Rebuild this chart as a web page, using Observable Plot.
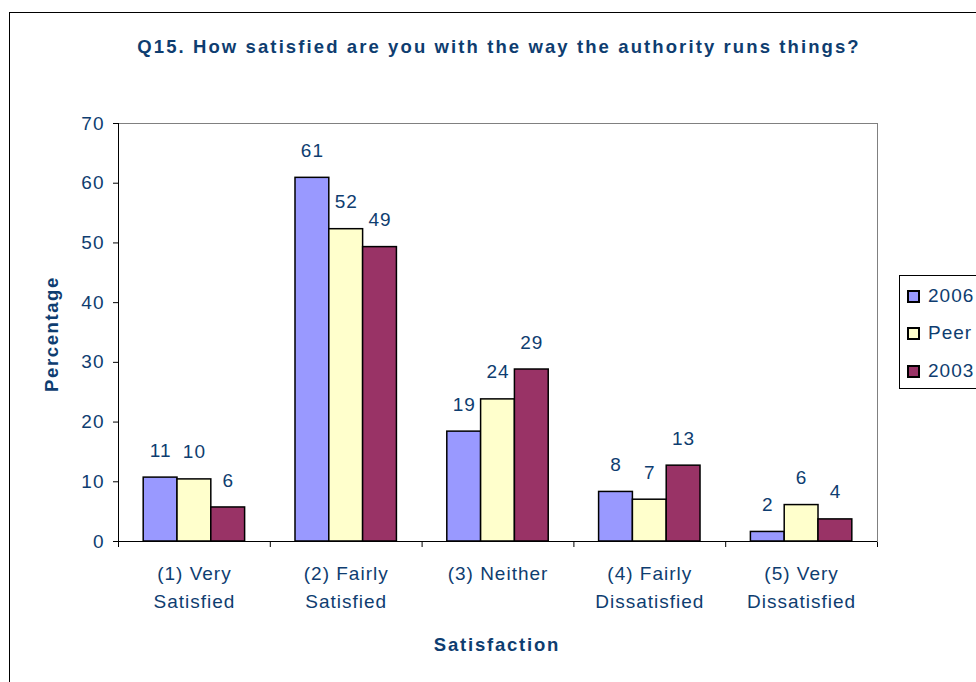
<!DOCTYPE html>
<html>
<head>
<meta charset="utf-8">
<script src="https://cdn.jsdelivr.net/npm/d3@7"></script>
<script src="https://cdn.jsdelivr.net/npm/@observablehq/plot@0.6"></script>
<style>
  html, body { margin: 0; padding: 0; width: 976px; height: 682px; overflow: hidden; background: #fff; }
  body { position: relative; font-family: "Liberation Sans", Arial, sans-serif; color: #0E3D70; }
  #border { position: absolute; left: 9px; top: 12px; width: 1100px; height: 800px; border: 1px solid #000; box-sizing: border-box; }
  #chart { position: absolute; left: 0; top: 0; }
  .ov { position: absolute; white-space: nowrap; }
  #title { left: 499px; top: 47px; transform: translate(-50%, -50%); font-weight: bold; font-size: 18.5px; letter-spacing: 2.1px; }
  #ylab { left: 52px; top: 334px; transform: translate(-50%, -50%) rotate(-90deg); font-weight: bold; font-size: 18.5px; letter-spacing: 1.6px; }
  #xlab { left: 497px; top: 645px; transform: translate(-50%, -50%); font-weight: bold; font-size: 18.5px; letter-spacing: 1.8px; }
  #legend { position: absolute; left: 899px; top: 275px; width: 200px; height: 114px; border: 1px solid #000; box-sizing: border-box; background: #fff; }
  .item { position: absolute; left: 7px; font-size: 19px; letter-spacing: 1px; display: flex; align-items: center; }
  .sw { width: 9px; height: 9px; border: 2px solid #000; margin-right: 8px; }
  #chart svg text { letter-spacing: 1px; }
</style>
</head>
<body>
<div id="border"></div>
<div id="chart"></div>
<div id="title" class="ov">Q15. How satisfied are you with the way the authority runs things?</div>
<div id="ylab" class="ov">Percentage</div>
<div id="xlab" class="ov">Satisfaction</div>
<div id="legend"></div>
<script>
const categories = ["(1) Very\nSatisfied", "(2) Fairly\nSatisfied", "(3) Neither", "(4) Fairly\nDissatisfied", "(5) Very\nDissatisfied"];
const series = ["2006", "Peer", "2003"];
const colors = ["#9999FF", "#FFFFCC", "#993366"];
const values2006 = [10.7, 60.9, 18.4, 8.3, 1.6];
const valuesPeer = [10.4, 52.3, 23.8, 7.0, 6.1];
const values2003 = [5.7, 49.3, 28.8, 12.7, 3.7];
const labels2006 = ["11", "61", "19", "8", "2"];
const labelsPeer = ["10", "52", "24", "7", "6"];
const labels2003 = ["6", "49", "29", "13", "4"];
const yTicks = [0, 10, 20, 30, 40, 50, 60, 70];

const allValues = [values2006, valuesPeer, values2003];
const allLabels = [labels2006, labelsPeer, labels2003];

const groupStart = 0.166; // fraction of a group slot before the first bar
const barWidth = 0.2227;  // fraction of a group slot per bar

const rows = [];
series.forEach((s, si) => {
  categories.forEach((c, ci) => {
    const x1 = ci + groupStart + si * barWidth;
    rows.push({series: s, category: c, value: allValues[si][ci], label: allLabels[si][ci], x1, x2: x1 + barWidth, xm: x1 + barWidth / 2});
  });
});
const catRows = categories.map((c, i) => ({category: c, x: i + 0.5}));

const navy = "#0E3D70";

const chart = Plot.plot({
  width: 976,
  height: 682,
  marginLeft: 118,
  marginRight: 99,
  marginTop: 123,
  marginBottom: 141,
  style: {fontFamily: "'Liberation Sans', Arial, sans-serif", fontSize: "19px", color: navy, background: "transparent", overflow: "visible"},
  x: {domain: [0, categories.length], ticks: d3.range(categories.length + 1), tickFormat: () => "", tickSize: 6, label: null},
  y: {domain: [0, 70], ticks: yTicks, tickSize: 5, tickPadding: 9, label: null},
  color: {domain: series, range: colors},
  marks: [
    Plot.frame({stroke: "#808080", strokeWidth: 1}),
    Plot.rectY(rows, {x1: "x1", x2: "x2", y: "value", fill: "series", stroke: "#000", strokeWidth: 1.5}),
    Plot.text(rows, {x: "xm", y: "value", text: "label", dy: -27, fill: navy, fontSize: 19}),
    Plot.text(catRows, {x: "x", text: "category", frameAnchor: "bottom", lineAnchor: "top", dy: 19, lineHeight: 1.47, fill: navy, fontSize: 19}),
    Plot.ruleY([0], {stroke: "#000", strokeWidth: 1}),
    Plot.ruleX([0], {stroke: "#000", strokeWidth: 1})
  ]
});
chart.querySelectorAll("[aria-label='x-axis'] line, [aria-label='y-axis'] line, [aria-label='x-axis tick'] path, [aria-label='y-axis tick'] path").forEach(e => e.setAttribute("stroke", "#000"));
document.getElementById("chart").appendChild(chart);

const legend = document.getElementById("legend");
const tops = [20, 57, 95];
series.forEach((s, i) => {
  const it = document.createElement("div");
  it.className = "item";
  it.style.top = (tops[i] - 11) + "px";
  const sw = document.createElement("div");
  sw.className = "sw";
  sw.style.background = colors[i];
  const t = document.createElement("span");
  t.textContent = s;
  it.appendChild(sw);
  it.appendChild(t);
  legend.appendChild(it);
});
</script>
</body>
</html>
